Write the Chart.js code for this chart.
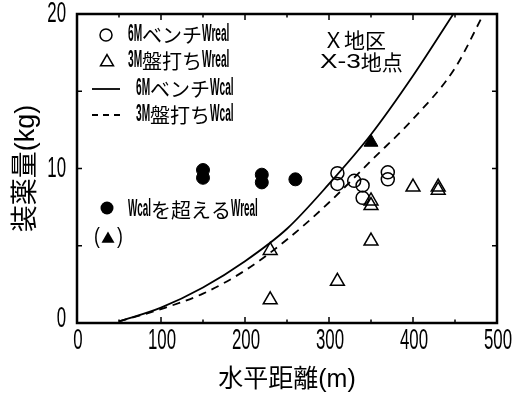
<!DOCTYPE html>
<html>
<head>
<meta charset="utf-8">
<script src="https://cdn.jsdelivr.net/npm/chart.js@4.4.1/dist/chart.umd.min.js"></script>
<style>
  html, body { margin: 0; padding: 0; background: #fff; }
  #wrap { width: 528px; height: 395px; }
</style>
</head>
<body>
<div id="wrap"><canvas id="chart" width="528" height="395"></canvas></div>
<script>
// Horizontal distance (m) / charge weight (kg)

// 6M bench: measured charge
const bench6RealX = [310, 310, 330, 340, 340, 370, 370];
const bench6RealY = [9.7, 9.0, 9.2, 8.9, 8.1, 9.75, 9.3];

// 3M 盤打ち: measured charge
const ban3RealX = [230, 230, 310, 350, 350, 350, 400, 430, 430];
const ban3RealY = [4.7, 1.5, 2.7, 5.3, 7.9, 7.6, 8.8, 8.8, 8.6];

// measured charge above the calculated one (circles: 6M bench, triangle: 3M 盤打ち)
const overBenchX = [150, 150, 220, 220, 260];
const overBenchY = [9.9, 9.4, 9.6, 9.1, 9.3];
const overBanX = [350];
const overBanY = [11.7];

// calculated allowable charge curves
const bench6CalcX = [50, 100, 150, 200, 250, 300, 350, 400, 448];
const bench6CalcY = [0.1, 1.0, 2.3, 4.0, 6.1, 9.0, 12.2, 16.0, 20];
const ban3CalcX = [50, 100, 150, 200, 250, 300, 350, 400, 450, 484];
const ban3CalcY = [0.1, 0.9, 1.9, 3.4, 5.4, 7.8, 10.5, 13.2, 16.5, 20];

// axes
const xRange = [0, 500];
const yRange = [0, 20];
const xTickStep = 50;
const yTickStep = 5;
const xLabelStep = 100;
const yLabelStep = 10;

// texts
const legendTexts = ['6MベンチWreal', '3M盤打ちWreal', '6MベンチWcal', '3M盤打ちWcal'];
const overText = 'Wcalを超えるWreal';
const siteTexts = ['Ｘ地区', 'X-3地点'];
const xTitle = '水平距離(m)';
const yTitle = '装薬量(kg)';

const LATIN = "'Liberation Sans', Arial, sans-serif";
const CJK = "'Noto Sans CJK JP', sans-serif";
const TITLE_FONT = "'Liberation Sans', 'Noto Sans CJK JP', sans-serif";
const INK = '#000';

const pts = (xs, ys) => xs.map((x, i) => ({ x: x, y: ys[i] }));

// Draws text with CJK glyphs at full width and Latin glyphs horizontally condensed.
function drawMixed(ctx, text, x, y, size, latinScale, align, latinSize, latinWeight) {
  const lSize = latinSize || size;
  const lFont = (latinWeight ? latinWeight + ' ' : '') + lSize + 'px ' + LATIN;
  const runs = [];
  for (const ch of text) {
    const wide = ch.codePointAt(0) >= 0x2E80;
    const last = runs[runs.length - 1];
    if (last && last.wide === wide) last.s += ch; else runs.push({ s: ch, wide: wide });
  }
  let total = 0;
  runs.forEach(r => {
    ctx.font = r.wide ? size + 'px ' + CJK : lFont;
    r.w = ctx.measureText(r.s).width * (r.wide ? 1 : latinScale);
    total += r.w;
  });
  let cx = align === 'center' ? x - total / 2 : align === 'right' ? x - total : x;
  ctx.textAlign = 'left';
  ctx.textBaseline = 'middle';
  runs.forEach(r => {
    ctx.font = r.wide ? size + 'px ' + CJK : lFont;
    ctx.save();
    ctx.translate(cx, y);
    if (!r.wide) ctx.scale(latinScale, 1);
    ctx.fillText(r.s, 0, 0);
    ctx.restore();
    cx += r.w;
  });
}

function drawTriangle(ctx, cx, cy, r, filled) {
  ctx.beginPath();
  for (let i = 0; i < 3; i++) {
    const ang = -Math.PI / 2 + i * 2 * Math.PI / 3;
    const px = cx + r * Math.cos(ang);
    const py = cy + r * Math.sin(ang);
    if (i === 0) ctx.moveTo(px, py); else ctx.lineTo(px, py);
  }
  ctx.closePath();
  if (filled) ctx.fill(); else ctx.stroke();
}

// frame, inward tick marks, tick labels, legend and site caption
const decorations = {
  id: 'decorations',
  afterDatasetsDraw(chart) {
    const { ctx, chartArea: a, scales: { x, y } } = chart;
    ctx.save();
    ctx.strokeStyle = INK;
    ctx.fillStyle = INK;

    // inward ticks on all four sides + labels
    ctx.lineWidth = 1.5;
    x.ticks.forEach(t => {
      const px = x.getPixelForValue(t.value);
      if (t.value % xLabelStep === 0) {
        drawMixed(ctx, String(t.value), px + 1, a.bottom + 18, 29, 0.58, 'center', 29, '500');
      }
      if (t.value <= xRange[0] || t.value >= xRange[1]) return;
      const len = t.value % xLabelStep === 0 ? 6 : 3.5;
      ctx.beginPath();
      ctx.moveTo(px, a.bottom); ctx.lineTo(px, a.bottom - len);
      ctx.moveTo(px, a.top); ctx.lineTo(px, a.top + len);
      ctx.stroke();
    });
    y.ticks.forEach(t => {
      const py = y.getPixelForValue(t.value);
      if (t.value % yLabelStep === 0) {
        drawMixed(ctx, String(t.value), a.left - 11, t.value === yRange[0] ? py - 4 : py, 29, 0.58, 'right', 29, '500');
      }
      if (t.value <= yRange[0] || t.value >= yRange[1]) return;
      const len = 5;
      ctx.beginPath();
      ctx.moveTo(a.left, py); ctx.lineTo(a.left + len, py);
      ctx.moveTo(a.right, py); ctx.lineTo(a.right - len, py);
      ctx.stroke();
    });

    // frame
    ctx.lineWidth = 2.5;
    ctx.strokeRect(a.left, a.top, a.right - a.left, a.bottom - a.top);

    // legend
    const lx = a.left;
    const ly = a.top;
    ctx.lineWidth = 1.5;
    const rows = [ly + 21, ly + 47, ly + 75, ly + 101];

    ctx.beginPath();
    ctx.arc(lx + 29, rows[0], 6, 0, Math.PI * 2);
    ctx.stroke();
    drawMixed(ctx, legendTexts[0], lx + 51, rows[0], 20, 0.44, 'left', 23, 'bold');

    drawTriangle(ctx, lx + 30, rows[1] + 1, 7.5, false);
    drawMixed(ctx, legendTexts[1], lx + 51, rows[1], 20, 0.44, 'left', 23, 'bold');

    ctx.lineWidth = 1.8;
    ctx.beginPath();
    ctx.moveTo(lx + 15, rows[2]); ctx.lineTo(lx + 43, rows[2]);
    ctx.stroke();
    drawMixed(ctx, legendTexts[2], lx + 59, rows[2], 20, 0.44, 'left', 23, 'bold');

    ctx.setLineDash([6, 5]);
    ctx.beginPath();
    ctx.moveTo(lx + 15, rows[3]); ctx.lineTo(lx + 45, rows[3]);
    ctx.stroke();
    ctx.setLineDash([]);
    drawMixed(ctx, legendTexts[3], lx + 59, rows[3], 20, 0.44, 'left', 23, 'bold');

    // key for the filled marks
    const ky = ly + 194;
    ctx.beginPath();
    ctx.arc(lx + 30, ky, 6.5, 0, Math.PI * 2);
    ctx.fill();
    drawMixed(ctx, overText, lx + 51, ky + 2, 20, 0.43, 'left', 23, 'bold');
    drawMixed(ctx, '(', lx + 20, ky + 29, 22, 0.8, 'center');
    drawMixed(ctx, ')', lx + 43, ky + 29, 22, 0.8, 'center');
    drawTriangle(ctx, lx + 31, ky + 31, 7.5, true);

    // site caption
    drawMixed(ctx, siteTexts[0], a.left + 246, ly + 26, 21, 1, 'left');
    drawMixed(ctx, siteTexts[1], a.left + 243, ly + 48, 21, 1.25, 'left');

    ctx.restore();
  }
};

new Chart(document.getElementById('chart'), {
  type: 'scatter',
  data: {
    datasets: [
      {
        label: legendTexts[2],
        data: pts(bench6CalcX, bench6CalcY),
        showLine: true,
        borderColor: INK,
        borderWidth: 1.8,
        pointRadius: 0,
        cubicInterpolationMode: 'monotone'
      },
      {
        label: legendTexts[3],
        data: pts(ban3CalcX, ban3CalcY),
        showLine: true,
        borderColor: INK,
        borderWidth: 1.8,
        borderDash: [8, 6],
        pointRadius: 0,
        cubicInterpolationMode: 'monotone'
      },
      {
        label: legendTexts[0],
        data: pts(bench6RealX, bench6RealY),
        pointStyle: 'circle',
        pointRadius: 6.5,
        borderColor: INK,
        backgroundColor: 'rgba(255,255,255,0)',
        borderWidth: 1.5
      },
      {
        label: legendTexts[1],
        data: pts(ban3RealX, ban3RealY),
        pointStyle: 'triangle',
        pointRadius: 8,
        borderColor: INK,
        backgroundColor: 'rgba(255,255,255,0)',
        borderWidth: 1.5
      },
      {
        label: overText,
        data: pts(overBenchX, overBenchY),
        pointStyle: 'circle',
        pointRadius: 6.5,
        borderColor: INK,
        backgroundColor: INK,
        borderWidth: 1
      },
      {
        label: overText + ' (3M)',
        data: pts(overBanX, overBanY),
        pointStyle: 'triangle',
        pointRadius: 8,
        borderColor: INK,
        backgroundColor: INK,
        borderWidth: 1
      }
    ]
  },
  options: {
    responsive: false,
    animation: false,
    devicePixelRatio: 1,
    layout: { padding: { left: 0, right: 31, top: 14, bottom: 0 } },
    plugins: { legend: { display: false }, tooltip: { enabled: false } },
    scales: {
      x: {
        type: 'linear',
        min: xRange[0],
        max: xRange[1],
        grid: { display: false, drawTicks: false },
        border: { display: false },
        ticks: { display: false, stepSize: xTickStep, autoSkip: false },
        title: {
          display: true,
          text: xTitle,
          color: INK,
          font: { family: TITLE_FONT, size: 25 },
          padding: { top: 0, bottom: 0 }
        },
        afterFit(s) { s.height = 72; }
      },
      y: {
        type: 'linear',
        min: yRange[0],
        max: yRange[1],
        grid: { display: false, drawTicks: false },
        border: { display: false },
        ticks: { display: false, stepSize: yTickStep, autoSkip: false },
        title: {
          display: true,
          text: yTitle,
          color: INK,
          font: { family: TITLE_FONT, size: 27 },
          padding: { top: 10, bottom: 0 }
        },
        afterFit(s) { s.width = 77; }
      }
    }
  },
  plugins: [decorations]
});
</script>
</body>
</html>
